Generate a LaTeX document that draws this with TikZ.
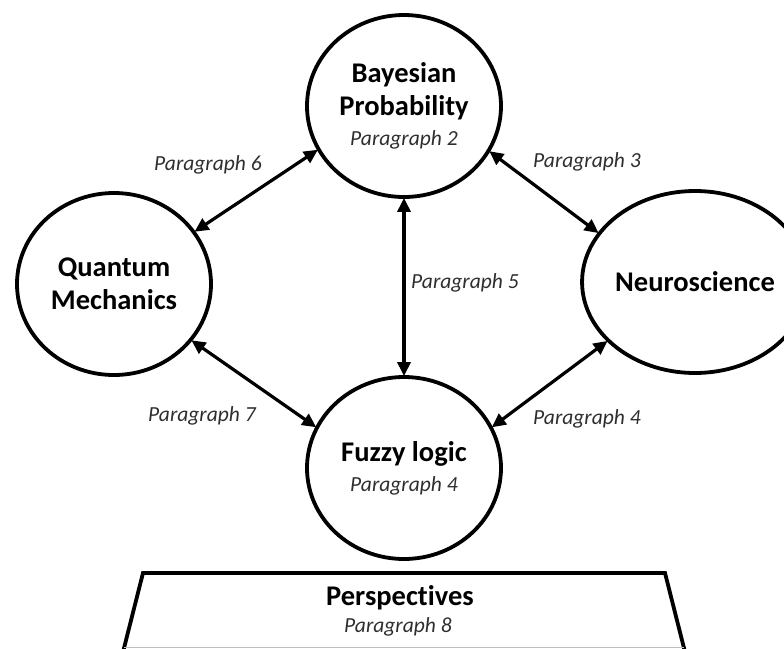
\documentclass[tikz,border=0pt]{standalone}
\usepackage{fontspec}
\setmainfont[Ligatures=NoCommon]{Carlito}
\usetikzlibrary{shapes.geometric,arrows.meta}
\definecolor{lab}{HTML}{2E2E2E}
\newcommand{\paratext}[1]{{\fontsize{21.5}{25}\selectfont\mdseries\itshape\color{lab}#1}}
\tikzset{
  topic/.style={ellipse, draw=black, line width=3.8pt, minimum width=194pt, minimum height=182pt, inner sep=0pt, align=center, text=black, font=\fontsize{28.5}{33}\selectfont\bfseries},
  para/.style={text=lab, font=\fontsize{21.5}{25}\selectfont\itshape, inner sep=0pt},
  link/.style={line width=3.2pt, {Triangle[length=14pt,width=13pt]}-{Triangle[length=14pt,width=13pt]}, shorten <=-1pt, shorten >=-1pt}
}
\begin{document}
\begin{tikzpicture}[x=1pt,y=-1pt]
\useasboundingbox (0,0) rectangle (784,648);
\node[topic] (bay) at (404,106) {Bayesian\\Probability\\[-3pt]\paratext{Paragraph 2}};
\node[topic] (qm) at (114,284) {Quantum\\Mechanics};
\node[topic] (neu) at (695,282) {Neuroscience};
\node[topic] (fuz) at (404,468) {Fuzzy logic\\[-3pt]\paratext{Paragraph 4}};

\draw[link] (bay.207.3) -- (qm.33.7);
\draw[link] (bay.-28.8) -- (neu.153.4);
\draw[link] (bay.south) -- (fuz.north);
\draw[link] (qm.-36) -- (fuz.155.9);
\draw[link] (neu.214) -- (fuz.25.7);

\node[para] (p6) at (208,165) {Paragraph 6};
\node[para] (p3) at (587,162) {Paragraph 3};
\node[para] (p5) at (465,283) {Paragraph 5};
\node[para] (p7) at (202,416) {Paragraph 7};
\node[para] (p4) at (587,419) {Paragraph 4};

\draw[line width=3.8pt, line join=miter] (122,656) -- (143,573) -- (665,573) -- (686,656);
\draw[line width=1pt, black!25] (124,647.5) -- (684,647.5);
\node[font=\fontsize{28.5}{33}\selectfont\bfseries, inner sep=0pt] (persp) at (400,598) {Perspect\kern0pt ives};
\node[para] (p8) at (398,627) {Paragraph 8};
\end{tikzpicture}
\end{document}
